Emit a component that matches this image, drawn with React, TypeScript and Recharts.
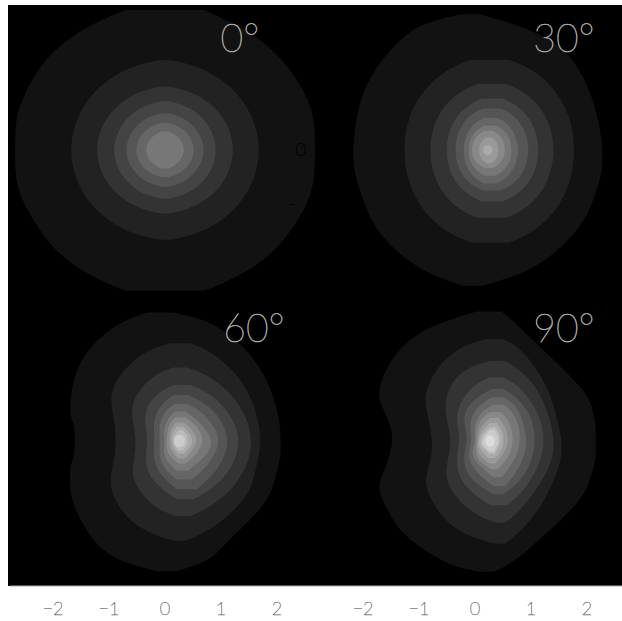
import React from "react";
import { ComposedChart, Area, XAxis, YAxis, ReferenceDot } from "recharts";

type Row = [number, number, number]; // y, left x, right x of one contour

const greys = ["#121212", "#222222", "#333333", "#444444", "#555555", "#666666", "#777777", "#888888", "#999999", "#aaaaaa", "#bbbbbb", "#cccccc", "#dddddd"];
const xTicks = [-2, -1, 0, 1, 2];
const yTicks = [-2, 0, 2];
const innerTicks = [-1, 0];

const deg0: Row[][] = [
  [[2.56,-.71,.71],[2.37,-1.16,1.10],[2.07,-1.70,1.67],[1.64,-2.17,2.11],[1.22,-2.41,2.41],[.67,-2.68,2.68],[0,-2.68,2.68],[-.66,-2.68,2.68],[-1.21,-2.41,2.44],[-1.93,-1.93,1.93],[-2.36,-1.22,1.22],[-2.57,-.71,.71]],
  [[1.64,-.10,.10],[1.55,-.55,.55],[1.30,-1.03,1.03],[.90,-1.42,1.42],[.45,-1.63,1.63],[0,-1.70,1.70],[-.45,-1.63,1.63],[-.90,-1.42,1.42],[-1.30,-1.03,1.03],[-1.55,-.55,.55],[-1.64,-.10,.10]],
  [[1.16,-.08,.08],[1.09,-.40,.40],[.92,-.74,.74],[.64,-1.02,1.02],[.32,-1.18,1.18],[0,-1.23,1.23],[-.32,-1.18,1.18],[-.64,-1.02,1.02],[-.92,-.74,.74],[-1.09,-.40,.40],[-1.16,-.08,.08]],
  [[.89,-.07,.07],[.83,-.32,.32],[.70,-.56,.56],[.48,-.77,.77],[.24,-.88,.88],[0,-.92,.92],[-.24,-.88,.88],[-.48,-.77,.77],[-.70,-.56,.56],[-.83,-.32,.32],[-.89,-.07,.07]],
  [[.67,-.06,.06],[.62,-.25,.25],[.52,-.43,.43],[.36,-.58,.58],[.18,-.67,.67],[0,-.70,.70],[-.18,-.67,.67],[-.36,-.58,.58],[-.52,-.43,.43],[-.62,-.25,.25],[-.67,-.06,.06]],
  [[.50,-.05,.05],[.46,-.19,.19],[.38,-.33,.33],[.27,-.43,.43],[.13,-.50,.50],[0,-.52,.52],[-.13,-.50,.50],[-.27,-.43,.43],[-.38,-.33,.33],[-.46,-.19,.19],[-.50,-.05,.05]],
  [[.34,-.05,.05],[.31,-.13,.13],[.25,-.22,.22],[.17,-.29,.29],[.08,-.33,.33],[0,-.34,.34],[-.08,-.33,.33],[-.17,-.29,.29],[-.25,-.22,.22],[-.31,-.13,.13],[-.34,-.05,.05]],
];

const deg30: Row[][] = [
  [[2.48,-.27,.09],[2.30,-.98,.71],[2.12,-1.21,1.16],[1.82,-1.53,1.64],[1.36,-1.87,1.93],[.85,-2.08,2.14],[.18,-2.18,2.28],[-.30,-2.17,2.28],[-.55,-2.12,2.23],[-1.15,-1.93,2.05],[-1.64,-1.64,1.70],[-2.06,-1.16,1.22],[-2.30,-.74,.74],[-2.48,-.21,.15]],
  [[1.65,-.07,.61],[1.52,-.43,.96],[1.17,-.88,1.40],[.63,-1.20,1.71],[0,-1.29,1.80],[-.64,-1.20,1.71],[-1.20,-.88,1.40],[-1.55,-.43,.96],[-1.69,-.07,.61]],
  [[1.21,.05,.55],[1.11,-.20,.80],[.86,-.53,1.13],[.46,-.75,1.35],[0,-.82,1.43],[-.47,-.75,1.35],[-.88,-.53,1.13],[-1.14,-.20,.80],[-1.24,.05,.55]],
  [[.94,.13,.49],[.86,-.06,.68],[.67,-.30,.92],[.36,-.47,1.09],[0,-.52,1.15],[-.36,-.47,1.09],[-.67,-.30,.92],[-.86,-.06,.68],[-.94,.13,.49]],
  [[.76,.15,.45],[.70,0,.60],[.54,-.19,.79],[.29,-.32,.92],[0,-.36,.97],[-.28,-.32,.92],[-.53,-.19,.79],[-.68,0,.60],[-.74,.15,.45]],
  [[.59,.17,.39],[.54,.06,.50],[.42,-.08,.64],[.22,-.18,.74],[0,-.21,.79],[-.23,-.18,.74],[-.43,-.08,.64],[-.56,.06,.50],[-.61,.17,.39]],
  [[.45,.18,.36],[.41,.09,.45],[.32,-.02,.56],[.17,-.10,.64],[0,-.12,.65],[-.18,-.10,.64],[-.33,-.02,.56],[-.43,.09,.45],[-.47,.18,.36]],
  [[.35,.18,.32],[.32,.11,.38],[.25,.02,.46],[.13,-.04,.52],[0,-.06,.54],[-.13,-.04,.52],[-.23,.02,.46],[-.30,.11,.38],[-.33,.18,.32]],
  [[.23,.21,.29],[.21,.17,.33],[.16,.12,.38],[.09,.08,.41],[0,.07,.42],[-.09,.08,.41],[-.17,.12,.38],[-.22,.17,.33],[-.24,.21,.29]],
  [[.09,.21,.25],[.08,.19,.27],[.06,.16,.30],[.03,.15,.31],[0,.14,.32],[-.03,.15,.31],[-.06,.16,.30],[-.08,.19,.27],[-.09,.21,.25]],
];

const deg60: Row[][] = [
  [[2.33,-.33,.15],[2.21,-.68,.71],[1.97,-1.07,1.10],[1.61,-1.43,1.52],[1.12,-1.65,1.82],[.64,-1.70,1.99],[.36,-1.68,2.04],[.30,-1.62,2.05],[0,-1.61,2.07],[-.30,-1.62,2.07],[-.45,-1.70,2.02],[-.76,-1.70,1.96],[-1.12,-1.67,1.82],[-1.48,-1.49,1.49],[-1.88,-1.25,1.07],[-2.15,-.92,.86],[-2.30,-.45,.45],[-2.38,-.15,.21]],
  [[1.77,.09,.45],[1.64,-.36,.80],[1.27,-.77,1.25],[.88,-.98,1.49],[.58,-.95,1.61],[.27,-.89,1.68],[0,-.88,1.71],[-.27,-.89,1.68],[-.58,-.97,1.61],[-.94,-.98,1.52],[-1.30,-.77,1.22],[-1.61,-.45,.83],[-1.78,-.03,.51],[-1.83,.21,.33]],
  [[1.33,.15,.39],[1.21,-.18,.74],[.94,-.45,1.10],[.64,-.61,1.34],[.33,-.57,1.49],[0,-.51,1.55],[-.33,-.55,1.51],[-.64,-.60,1.37],[-.94,-.45,1.16],[-1.24,-.18,.77],[-1.38,.21,.45]],
  [[1.01,.15,.45],[.88,-.12,.77],[.64,-.33,1.04],[.33,-.37,1.25],[0,-.30,1.33],[-.33,-.36,1.27],[-.64,-.30,1.10],[-.91,-.03,.80],[-1.07,.21,.51]],
  [[.83,.15,.42],[.67,-.06,.74],[.39,-.22,1.01],[0,-.18,1.15],[-.33,-.22,1.05],[-.64,-.09,.86],[-.89,.21,.57]],
  [[.67,.18,.39],[.52,-.03,.68],[.24,-.12,.89],[0,-.08,.98],[-.27,-.12,.89],[-.55,0,.68],[-.71,.21,.48]],
  [[.53,.18,.36],[.39,.03,.57],[.15,-.03,.77],[-.03,0,.85],[-.24,-.04,.77],[-.42,.06,.57],[-.55,.21,.42]],
  [[.42,.18,.36],[.27,.05,.57],[.03,.03,.70],[-.18,.02,.62],[-.33,.12,.48],[-.42,.24,.36]],
  [[.33,.21,.33],[.21,.09,.48],[0,.08,.60],[-.18,.09,.49],[-.33,.24,.36]],
  [[.25,.21,.33],[.12,.12,.45],[-.03,.11,.51],[-.15,.15,.43],[-.24,.24,.34]],
  [[.18,.24,.32],[.09,.16,.40],[-.03,.14,.42],[-.12,.18,.38],[-.18,.24,.32]],
  [[.10,.22,.30],[.05,.17,.35],[-.01,.16,.36],[-.07,.17,.35],[-.12,.22,.30]],
];

const deg90: Row[][] = [
  [[2.35,.03,.48],[2.27,-.24,.57],[2.12,-.68,.74],[1.88,-1.16,.98],[1.42,-1.55,1.46],[.94,-1.73,1.93],[.70,-1.71,2.07],[.39,-1.55,2.14],[.18,-1.49,2.16],[-.03,-1.47,2.16],[-.39,-1.55,2.16],[-.70,-1.70,2.05],[-.94,-1.73,1.99],[-1.36,-1.52,1.64],[-1.73,-1.28,1.22],[-2.03,-.86,.92],[-2.30,-.39,.54],[-2.39,.09,.33]],
  [[1.85,.21,.48],[1.76,-.15,.71],[1.48,-.57,.98],[1.06,-.83,1.25],[.76,-.91,1.37],[.39,-.83,1.47],[.03,-.76,1.55],[-.27,-.77,1.55],[-.58,-.86,1.47],[-.82,-.90,1.37],[-1.24,-.71,1.16],[-1.61,-.39,.86],[-1.82,.09,.62],[-1.88,.39,.54]],
  [[1.45,.27,.54],[1.33,-.15,.74],[1.06,-.42,1.04],[.70,-.55,1.23],[.39,-.51,1.34],[0,-.42,1.42],[-.33,-.48,1.39],[-.64,-.54,1.25],[-.94,-.42,1.07],[-1.24,-.15,.83],[-1.45,.21,.62],[-1.50,.39,.51]],
  [[1.15,.27,.51],[1.03,0,.74],[.76,-.24,.98],[.45,-.34,1.15],[.21,-.30,1.21],[0,-.27,1.23],[-.33,-.34,1.19],[-.64,-.30,1.04],[-.94,-.09,.86],[-1.18,.27,.57]],
  [[.94,.30,.51],[.79,.03,.74],[.52,-.22,.97],[.21,-.17,1.06],[0,-.13,1.07],[-.30,-.22,1.04],[-.64,-.15,.89],[-.88,.15,.65],[-.98,.33,.51]],
  [[.79,.30,.51],[.64,.06,.74],[.36,-.12,.86],[0,-.04,.93],[-.27,-.15,.89],[-.58,0,.74],[-.83,.33,.54]],
  [[.65,.33,.51],[.52,.09,.68],[.24,-.03,.80],[0,.02,.80],[-.24,-.09,.77],[-.48,.09,.62],[-.67,.33,.48]],
  [[.52,.27,.45],[.39,.09,.60],[.15,.02,.67],[-.03,.03,.68],[-.27,0,.62],[-.42,.12,.51],[-.53,.30,.39]],
  [[.41,.27,.42],[.27,.10,.54],[.03,.04,.61],[-.18,.03,.55],[-.33,.12,.45],[-.42,.27,.36]],
  [[.32,.27,.39],[.18,.12,.49],[0,.06,.52],[-.18,.08,.48],[-.32,.24,.36]],
  [[.24,.27,.37],[.12,.14,.45],[-.01,.09,.46],[-.13,.12,.42],[-.24,.26,.35]],
  [[.19,.27,.35],[.09,.17,.41],[-.02,.12,.43],[-.12,.16,.38],[-.20,.27,.34]],
  [[.09,.24,.31],[.05,.20,.34],[-.01,.18,.36],[-.07,.20,.34],[-.11,.24,.31]],
];

const minus = (v: number) => String(v).replace("-", "\u2212");
const font = { fontFamily: "Lato", fontWeight: 100 };

interface PanelProps {
  contours: Row[][];
  title: string;
  titleX: number;
  left: number;
  top: number;
  bottomAxis?: boolean;
  sideTicks?: number[];
  sideFill?: string;
}

const Panel = ({ contours, title, titleX, left, top, bottomAxis, sideTicks, sideFill }: PanelProps) => (
  <div style={{ position: "absolute", left, top }}>
    <ComposedChart
      layout="vertical"
      width={340}
      height={bottomAxis ? 326 : 290}
      margin={{ top: 0, right: 0, bottom: 0, left: 0 }}
    >
      <XAxis
        type="number"
        domain={[-2.77, 2.77]}
        ticks={xTicks}
        hide={!bottomAxis}
        height={35}
        interval={0}
        tickFormatter={minus}
        tickLine={false}
        tickMargin={10}
        axisLine={{ stroke: "#aaaaaa" }}
        tick={{ fill: "#777777", stroke: "#777777", strokeWidth: 0.5, fontSize: 18, ...font }}
      />
      <YAxis
        type="number"
        dataKey="y"
        reversed
        domain={[-2.65, 2.65]}
        ticks={sideTicks ?? []}
        width={30}
        interval={0}
        tickFormatter={(v: number) => (sideFill === "#000000" && v === -1 ? "\u2212\u00a0\u00a0" : minus(v))}
        tickLine={false}
        axisLine={false}
        tickMargin={8}
        tick={{ fill: sideFill ?? "#777777", stroke: sideFill ?? "#777777", strokeWidth: 0.5, fontSize: 18, ...font }}
      />
      {contours.map((rows, i) => (
        <Area
          key={i}
          data={rows.map(([y, l, r]) => ({ y, range: [l, r] }))}
          dataKey="range"
          type="basis"
          fill={greys[i]}
          fillOpacity={1}
          stroke="none"
          dot={false}
          activeDot={false}
          isAnimationActive={false}
        />
      ))}
      <ReferenceDot
        x={titleX}
        y={2.04}
        r={0}
        fill="none"
        stroke="none"
        ifOverflow="visible"
        label={{ value: title, position: "center", fill: "#aaaaaa", stroke: "#aaaaaa", strokeWidth: 0.6, fontSize: 39, ...font }}
      />
    </ComposedChart>
  </div>
);

export default function App() {
  return (
    <div style={{ position: "absolute", left: 0, top: 0, width: 622, height: 621, overflow: "hidden", background: "#ffffff" }}>
      <div style={{ position: "absolute", left: 8, top: 5, width: 614, height: 581, background: "#000000" }} />
      <Panel contours={deg0} title="0°" titleX={1.34} left={-20} top={5} sideTicks={yTicks} />
      <Panel contours={deg30} title="30°" titleX={1.59} left={290} top={5} sideTicks={innerTicks} sideFill="#000000" />
      <Panel contours={deg60} title="60°" titleX={1.59} left={-20} top={295} bottomAxis sideTicks={yTicks} />
      <Panel contours={deg90} title="90°" titleX={1.59} left={290} top={295} bottomAxis />
    </div>
  );
}
